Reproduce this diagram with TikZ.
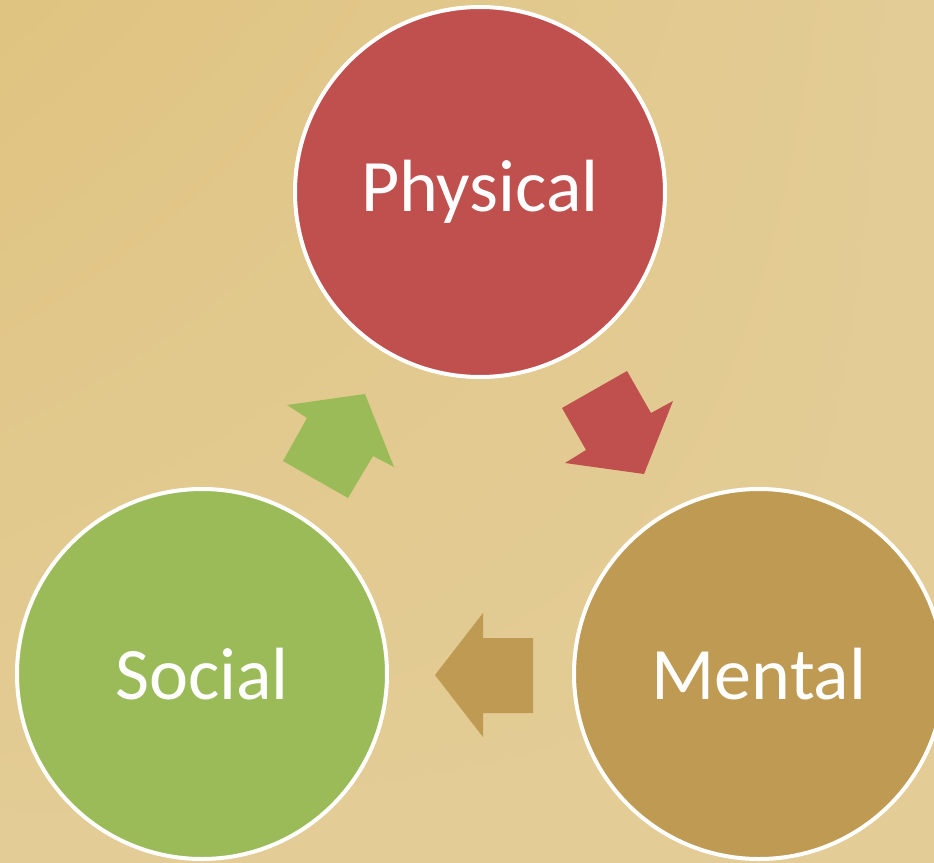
\documentclass[tikz,border=0pt]{standalone}
\usepackage{fontspec}
\usetikzlibrary{shadings}
\setmainfont{Carlito}
\definecolor{bgA}{HTML}{DFC380}
\definecolor{bgB}{HTML}{E3CC96}
\definecolor{phys}{HTML}{C0504D}
\definecolor{soc}{HTML}{9BBB59}
\definecolor{ment}{HTML}{BE9A52}
\tikzset{
  bubble/.style={circle, draw=white, line width=4pt, minimum size=370pt, inner sep=0pt,
    text=white, font=\fontsize{74}{80}\selectfont}
}
\begin{document}
\begin{tikzpicture}[x=1pt,y=-1pt]
\useasboundingbox (0,0) rectangle (934,862);
\clip (0,0) rectangle (934,862);
\fill[bgB] (0,0) rectangle (934,862);
\shade[upper left=bgA, upper right=bgB, lower left=bgB, lower right=bgB] (0,0) rectangle (934,862);
\node[bubble, fill=phys] (physical) at (480,192) {Physical};
\node[bubble, fill=soc] (social) at (202,674) {Social};
\node[bubble, fill=ment] (mental) at (759,674) {Mental};
% red arrow Physical -> Mental
\fill[phys] (562,408) -- (627,371) -- (651,413) -- (673,401) -- (644,474) -- (565,463) -- (586,450) -- cycle;
% tan arrow Mental -> Social
\fill[ment] (533,638) -- (483,638) -- (483,613) -- (435,675) -- (483,737) -- (483,713) -- (533,713) -- cycle;
% green arrow Social -> Physical
\fill[soc] (287,405) -- (365,394) -- (394,467) -- (373,456) -- (348,498) -- (283,461) -- (307,418) -- cycle;
\end{tikzpicture}
\end{document}
